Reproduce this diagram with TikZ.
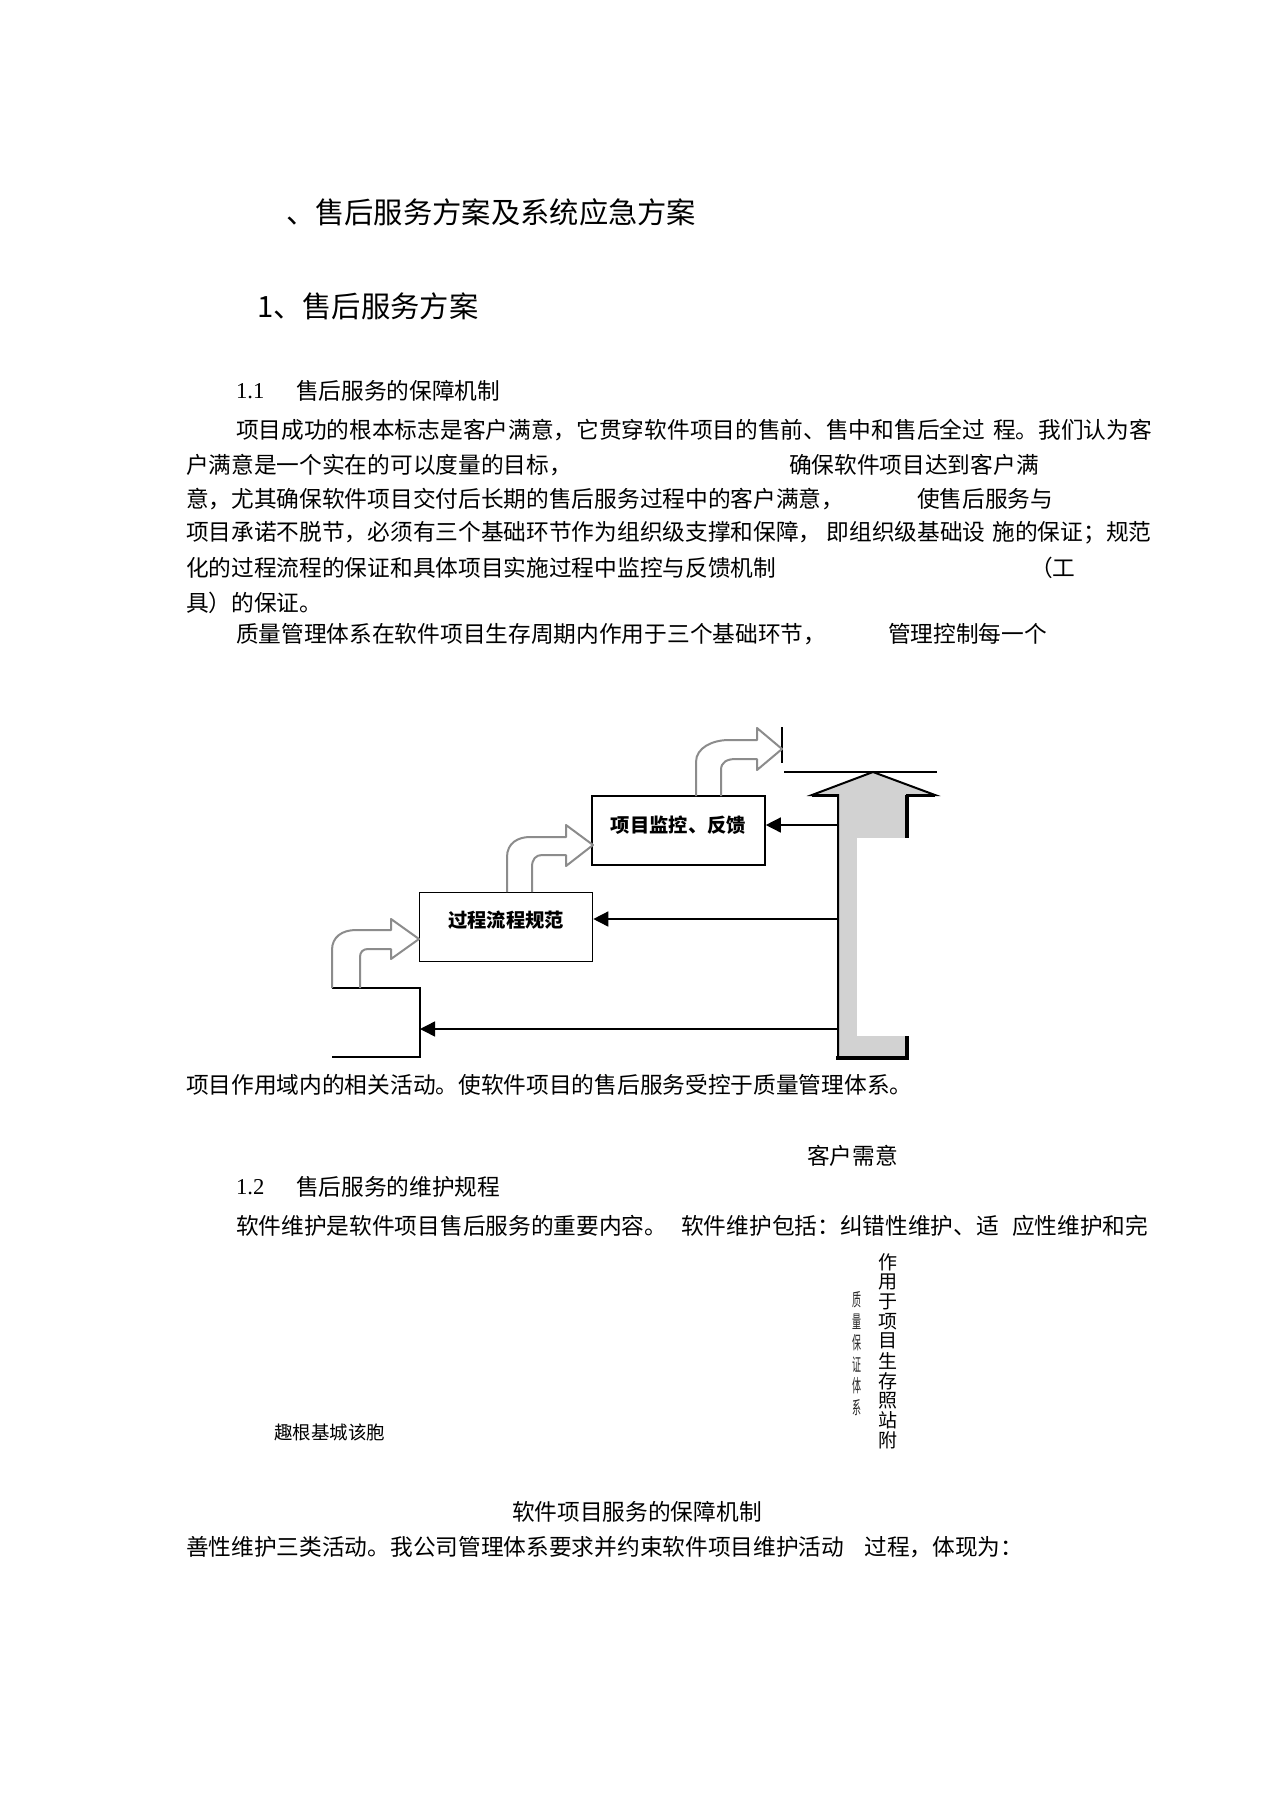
\documentclass[tikz,border=0pt]{standalone}
\usepackage{fontspec}
\setmainfont{Liberation Serif}
\newfontfamily\cjk{Noto Sans CJK SC}
\usetikzlibrary{arrows.meta}
\definecolor{bigfill}{HTML}{D2D2D2}
\definecolor{arrgray}{HTML}{8C8C8C}
\begin{document}
\begin{tikzpicture}[x=1pt,y=-1pt,
  txt/.style={anchor=west,inner sep=0pt,outer sep=0pt},
  body/.style={txt,font=\cjk\fontsize{22.7}{27}\selectfont},
  numtxt/.style={txt,font=\fontsize{22.7}{27}\selectfont},
  bigtxt/.style={txt,font=\cjk\fontsize{29.3}{34}\selectfont},
  stepbox/.style={draw,line width=1.6pt,minimum width=173pt,minimum height=69pt,inner sep=0pt},
  boxtxt/.style={inner sep=0pt,font=\cjk\bfseries\fontsize{19.3}{22}\selectfont},
  harrow/.style={line width=1.5pt,-{Triangle[length=15pt,width=15pt]}},
  barrow/.style={draw=arrgray,line width=2pt,line join=round},
  vchar/.style={inner sep=0pt,font=\cjk\fontsize{19}{20}\selectfont},
  gchar/.style={inner sep=0pt,font=\cjk\fontsize{18}{19}\selectfont,xscale=0.5,text=black!85}]
\path[use as bounding box,fill=white] (0,0) rectangle (1274,1804);

% headings
\node[bigtxt] (t0) at (286,212) {、售后服务方案及系统应急方案};
\node[bigtxt] (t1) at (257,306) {1、售后服务方案};
\node[numtxt] (h11n) at (236,391) {1.1};
\node[body] (h11) at (296,391) {售后服务的保障机制};

% paragraph 1
\node[body] (p1) at (236,430) {项目成功的根本标志是客户满意，它贯穿软件项目的售前、售中和售后全过\hspace{8pt}程。我们认为客};
\node[body] (p2a) at (186,465) {户满意是一个实在的可以度量的目标，};
\node[body] (p2b) at (789,465) {确保软件项目达到客户满};
\node[body] (p3a) at (186,499) {意，尤其确保软件项目交付后长期的售后服务过程中的客户满意，};
\node[body] (p3b) at (917,499) {使售后服务与};
\node[body] (p4) at (186,533) {项目承诺不脱节，必须有三个基础环节作为组织级支撑和保障， 即组织级基础设\hspace{7pt}施的保证；规范};
\node[body] (p5a) at (186,568) {化的过程流程的保证和具体项目实施过程中监控与反馈机制};
\node[body] (p5b) at (1030,568) {（工};
\node[body] (p6) at (186,603) {具）的保证。};
\node[body] (p7a) at (236,634) {质量管理体系在软件项目生存周期内作用于三个基础环节，};
\node[body] (p7b) at (888,634) {管理控制每一个};

% diagram boxes
\node[stepbox] (b1) at (678.5,830.5) {};
\node[boxtxt] (b1t) at ([yshift=5pt]b1.center) {项目监控、反馈};
\node[stepbox] (b2) at (506,927) {};
\node[boxtxt] (b2t) at ([yshift=7pt]b2.center) {过程流程规范};

% bottom-left partial box
\draw[line width=1.6pt] (332,988) -- (420,988) -- (420,1057) -- (332,1057);
\coordinate (b3e) at (420,1029);

% big up arrow
\filldraw[fill=bigfill,draw=black,line width=2pt,line join=miter]
  (838,1058) -- (838,795) -- (812,795) -- (873,772) -- (935,795) -- (907,795) -- (907,1058) -- cycle;
\draw[line width=3.5pt] (907,795) -- (907,1058) -- (836,1058);
\draw[line width=3pt] (812,795) -- (838,795) (907,795) -- (935,795);
\fill[white] (857,838) rectangle (913,1036);

% top marker lines
\draw[line width=1.2pt] (782,727) -- (782,763);
\draw[line width=1.2pt] (784,772) -- (937,772);

% feedback arrows
\coordinate (s1) at (838,825);
\coordinate (s2) at (838,919);
\coordinate (s3) at (838,1029);
\draw[harrow] (s1) -- (s1 -| b1.east);
\draw[harrow] (s2) -- (s2 -| b2.east);
\draw[harrow] (s3) -- (b3e);

% curved block arrows
\draw[barrow] (696,796) -- (696,762) .. controls (696,748) and (712,740) .. (729,740) -- (757,740) -- (757,728) -- (782,749) -- (757,770) -- (757,759) -- (736,759) .. controls (727,759) and (721,762) .. (721,770) -- (721,796);
\draw[barrow] (507,892) -- (507,857) .. controls (507,843) and (518,837) .. (530,837) -- (566,837) -- (566,825) -- (593,845) -- (566,866) -- (566,855) -- (542,855) .. controls (536,855) and (532,859) .. (532,867) -- (532,892);
\draw[barrow] (332,988) -- (332,950) .. controls (332,937) and (342,930) .. (356,930) -- (391,930) -- (391,919) -- (419,939) -- (391,959) -- (391,949) -- (368,949) .. controls (363,949) and (360,952) .. (360,957) -- (360,988);

% lower text
\node[body] (q1) at (186,1085) {项目作用域内的相关活动。使软件项目的售后服务受控于质量管理体系。};
\node[body] (kh) at (807,1156) {客户需意};
\node[numtxt] (h12n) at (236,1187) {1.2};
\node[body] (h12) at (296,1187) {售后服务的维护规程};
\node[body] (q2) at (236,1226) {软件维护是软件项目售后服务的重要内容。\hspace{14pt}软件维护包括：纠错性维护、适\hspace{13pt}应性维护和完};

% vertical texts
\foreach \c [count=\i] in {作,用,于,项,目,生,存,照,站,附}
  \node[vchar] (v\i) at (888,{1262+(\i-1)*19.8}) {\c};
\foreach \c [count=\i] in {质,量,保,证,体,系}
  \node[gchar] (g\i) at (857,{1300+(\i-1)*21.5}) {\c};

\node[txt,font=\cjk\fontsize{18.5}{22}\selectfont] (qj) at (274,1432) {趣根基城该胞};
\node[body] (cap) at (512,1512) {软件项目服务的保障机制};
\node[body] (q3) at (186,1547) {善性维护三类活动。我公司管理体系要求并约束软件项目维护活动\hspace{20pt}过程，体现为：};
\end{tikzpicture}
\end{document}
